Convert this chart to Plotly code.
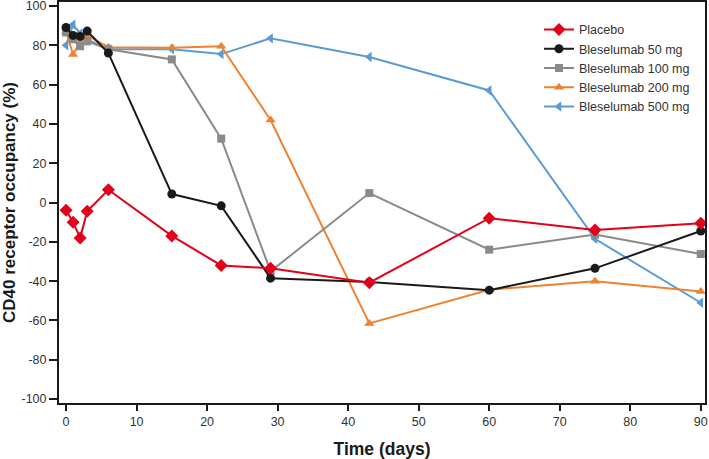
import plotly.graph_objects as go

days = [0, 1, 2, 3, 6, 15, 22, 29, 43, 60, 75, 90]

placebo = [-4, -10, -18, -4.5, 6.5, -17, -32, -33.5, -40.8, -8, -14, -10.5]
bles_50 = [89, 85, 84.5, 87.2, 76, 4.3, -1.7, -38.5, -40.5, -44.6, -33.5, -14.5]
bles_100 = [86.5, 83, 79.5, 82, 78, 72.8, 32.5, -35, 4.8, -24, -16.3, -26.2]
bles_200 = [87, 75.3, 82, 85, 79, 78.7, 79.5, 42, -61.5, -44.4, -40, -45.3]
bles_500 = [80, 90.5, 86, 83, 78, 78, 75.5, 83.5, 74, 57, -18.5, -51]

y_ticks = [-100, -80, -60, -40, -20, 0, 20, 40, 60, 80, 100]
y_ticktext = [str(v) for v in y_ticks]

series = [
    ("Bleselumab 500 mg", bles_500, "#5b9bd5", "triangle-left", 9),
    ("Bleselumab 200 mg", bles_200, "#ee8232", "triangle-up", 9),
    ("Bleselumab 100 mg", bles_100, "#8a8a8a", "square", 8),
    ("Bleselumab 50 mg", bles_50, "#1a1a1a", "circle", 9),
    ("Placebo", placebo, "#e2001a", "diamond", 10),
]

fig = go.Figure()
for name, vals, color, symbol, size in series:
    fig.add_trace(go.Scatter(
        x=days, y=vals, mode="lines+markers", name=name,
        line=dict(color=color, width=2),
        marker=dict(color=color, symbol=symbol, size=size),
    ))

axis_font = dict(family="Liberation Sans, Arial", size=12.5, color="#333333")
fig.update_layout(
    width=709, height=459,
    margin=dict(l=59, r=4, t=2, b=56),
    plot_bgcolor="white", paper_bgcolor="white",
    font=dict(family="Liberation Sans, Arial", color="#333333"),
    legend=dict(
        x=0.743, y=0.968, xanchor="left", yanchor="top",
        traceorder="reversed", font=dict(size=12.5, color="#333333"),
        bgcolor="rgba(0,0,0,0)", itemwidth=30,
    ),
    xaxis=dict(
        range=[-1, 90.6], dtick=10, tick0=0, automargin=False,
        showgrid=False, zeroline=False,
        showline=True, linecolor="#1a1a1a", linewidth=2, mirror=True,
        ticks="outside", ticklen=6, tickwidth=2, tickcolor="#1a1a1a",
        tickfont=axis_font, ticklabeloverflow="allow",
        title=dict(text="<b>Time (days)</b>", font=dict(size=17.5, color="#1a1a1a")),
    ),
    yaxis=dict(
        range=[-102, 102], tickvals=y_ticks, ticktext=y_ticktext, automargin=False,
        showgrid=False, zeroline=False,
        showline=True, linecolor="#1a1a1a", linewidth=2, mirror=True,
        ticks="outside", ticklen=8, tickwidth=2, tickcolor="#1a1a1a",
        tickfont=axis_font, ticklabeloverflow="allow",
        title=dict(text="<b>CD40 receptor occupancy (%)</b>", font=dict(size=17, color="#1a1a1a")),
    ),
)

fig.write_html("out.html", config={"displayModeBar": False},
               post_script="document.body.style.margin='0';")
